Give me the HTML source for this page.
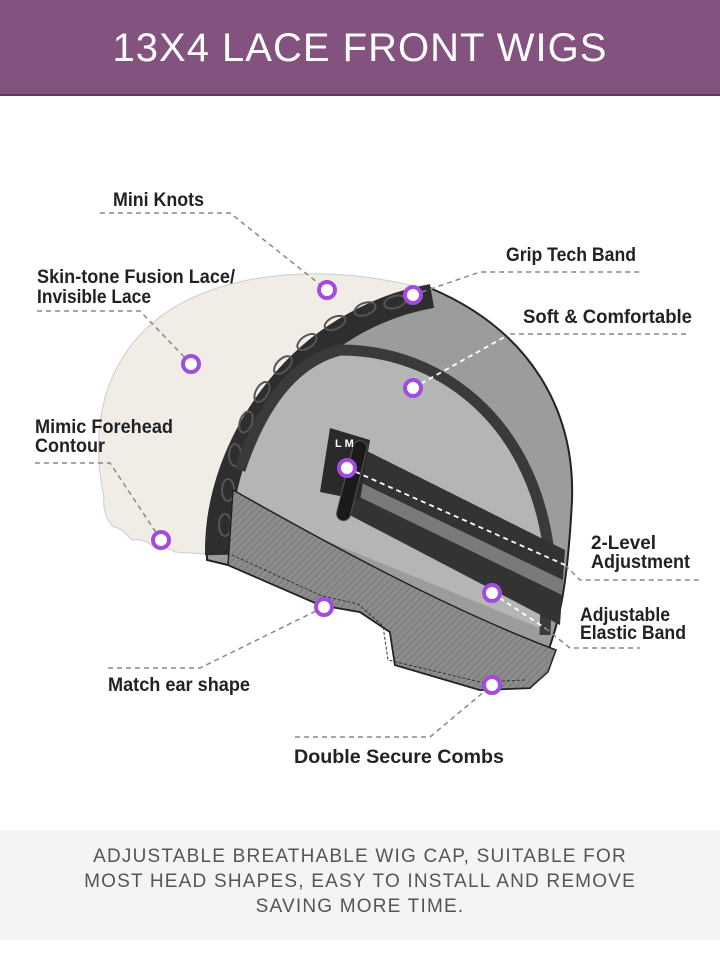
<!DOCTYPE html>
<html><head><meta charset="utf-8"><style>
body{margin:0;width:720px;height:963px;background:#fff;overflow:hidden;font-family:"Liberation Sans",sans-serif}
.hd{position:absolute;left:0;top:0;width:720px;height:94px;background:#83527f;border-bottom:2px solid #5a3a58;color:#fff;font-size:40px;text-align:center;line-height:96px;letter-spacing:1px}
.ft{position:absolute;left:0;top:830px;width:720px;height:110px;background:#f4f4f4;color:#555;font-size:19px;text-align:center;letter-spacing:1.2px;line-height:25px;padding-top:14px;box-sizing:border-box}
svg{position:absolute;left:0;top:0}
.l{font-family:"Liberation Sans",sans-serif;font-weight:bold;font-size:19px;fill:#222}
</style></head><body>
<div class="hd">13X4 LACE FRONT WIGS</div>
<svg width="720" height="963">
<defs><pattern id="h" width="5" height="5" patternUnits="userSpaceOnUse" patternTransform="rotate(45)"><rect width="5" height="5" fill="#8c8c8c"/><line x1="0" y1="0" x2="0" y2="5" stroke="#777" stroke-width="2"/></pattern></defs>
<!-- lace -->
<path d="M175,552 Q165,545 155,548 Q145,538 132,540 Q122,528 112,526 Q102,512 104,498 C92,440 98,380 140,335 C190,280 300,255 430,290 L300,560 Z" fill="#f1ede6" stroke="#ccc" stroke-width="1"/>
<!-- cap outer -->
<path d="M207,560 C205,430 300,305 430,288 C530,330 575,410 572,500 C568,580 560,640 530,688 L480,690 L395,665 L390,632 L360,612 L320,605 L228,565 Z" fill="#9c9c9c" stroke="#222" stroke-width="2"/>
<!-- grip band -->
<path d="M217,555 C215,440 305,318 432,296" fill="none" stroke="#2e2e2e" stroke-width="24"/>
<g fill="none" stroke="#555" stroke-width="2">
<ellipse cx="225" cy="525" rx="6" ry="11"/><ellipse cx="228" cy="490" rx="6" ry="11"/><ellipse cx="235" cy="455" rx="6" ry="11"/><ellipse cx="246" cy="422" rx="6" ry="11" transform="rotate(20 246 422)"/><ellipse cx="262" cy="392" rx="6" ry="11" transform="rotate(30 262 392)"/><ellipse cx="283" cy="365" rx="6" ry="11" transform="rotate(45 283 365)"/><ellipse cx="307" cy="342" rx="6" ry="11" transform="rotate(55 307 342)"/><ellipse cx="335" cy="323" rx="6" ry="11" transform="rotate(65 335 323)"/><ellipse cx="365" cy="309" rx="6" ry="11" transform="rotate(70 365 309)"/><ellipse cx="395" cy="302" rx="6" ry="11" transform="rotate(75 395 302)"/>
</g>
<!-- inner light -->
<path d="M237,492 C255,410 300,355 340,350 C440,350 535,420 548,545 L545,630 L300,530 Z" fill="#b5b5b5"/>
<path d="M240,470 C265,395 300,360 340,350 C440,350 530,420 548,545 L545,635" fill="none" stroke="#3a3a3a" stroke-width="11"/>
<!-- bottom hatched band -->
<path d="M233,490 C330,545 450,610 556,650 L548,672 L530,688 L480,690 L395,665 L390,632 L360,612 L320,605 L228,565 Z" fill="url(#h)" stroke="#222" stroke-width="1.5"/>
<path d="M232,555 L322,596 L358,604 L383,626 L388,660 L480,682 L525,680" fill="none" stroke="#333" stroke-width="1" stroke-dasharray="3,2"/>
<!-- strap -->
<path d="M355,445 L565,550 L560,625 L340,510 Z" fill="#333"/>
<path d="M345,475 L563,580 L562,595 L345,490 Z" fill="#7a7a7a"/>
<path d="M330,428 L370,440 L360,500 L320,492 Z" fill="#2a2a2a"/>
<rect x="345" y="440" width="14" height="82" rx="7" fill="#1a1a1a" stroke="#555" transform="rotate(14 353 480)"/>
<text x="335" y="447" fill="#fff" font-size="11" font-weight="bold">L M</text>
<!-- leader lines -->
<g fill="none" stroke="#888" stroke-width="1.5" stroke-dasharray="5,4">
<polyline points="100,213 230,213 327,290"/>
<polyline points="413,295 480,272 640,272"/>
<polyline points="37,311 140,311 191,364"/>
<polyline points="35,463 110,463 161,540"/>
<polyline points="108,668 200,668 324,607"/>
<polyline points="295,737 430,737 492,685"/>
<polyline points="545,628 570,648 640,648"/>
<polyline points="565,565 580,580 700,580"/>
<polyline points="510,334 690,334"/>
</g>
<g fill="none" stroke="#fff" stroke-width="1.8" stroke-dasharray="5,4">
<polyline points="413,388 510,334"/>
<polyline points="347,468 565,565"/>
<polyline points="492,593 545,628"/>
</g>
<g fill="#fff" stroke="#a24be0" stroke-width="4">
<circle cx="327" cy="290" r="8"/><circle cx="413" cy="295" r="8"/><circle cx="191" cy="364" r="8"/><circle cx="413" cy="388" r="8"/><circle cx="347" cy="468" r="8"/><circle cx="161" cy="540" r="8"/><circle cx="324" cy="607" r="8"/><circle cx="492" cy="593" r="8"/><circle cx="492" cy="685" r="8"/>
</g>
<text class="l" x="113" y="206" textLength="91" lengthAdjust="spacingAndGlyphs">Mini Knots</text>
<text class="l" x="506" y="261" textLength="130" lengthAdjust="spacingAndGlyphs">Grip Tech Band</text>
<text class="l" x="37" y="283" textLength="198" lengthAdjust="spacingAndGlyphs">Skin-tone Fusion Lace/</text>
<text class="l" x="37" y="303" textLength="114" lengthAdjust="spacingAndGlyphs">Invisible Lace</text>
<text class="l" x="523" y="323" textLength="169" lengthAdjust="spacingAndGlyphs">Soft &amp; Comfortable</text>
<text class="l" x="35" y="433" textLength="138" lengthAdjust="spacingAndGlyphs">Mimic Forehead</text>
<text class="l" x="35" y="452" textLength="70" lengthAdjust="spacingAndGlyphs">Contour</text>
<text class="l" x="591" y="549" textLength="65" lengthAdjust="spacingAndGlyphs">2-Level</text>
<text class="l" x="591" y="568" textLength="99" lengthAdjust="spacingAndGlyphs">Adjustment</text>
<text class="l" x="580" y="621" textLength="90" lengthAdjust="spacingAndGlyphs">Adjustable</text>
<text class="l" x="580" y="639" textLength="106" lengthAdjust="spacingAndGlyphs">Elastic Band</text>
<text class="l" x="108" y="691" textLength="142" lengthAdjust="spacingAndGlyphs">Match ear shape</text>
<text class="l" x="294" y="763" textLength="210" lengthAdjust="spacingAndGlyphs">Double Secure Combs</text>
</svg>
<div class="ft">ADJUSTABLE BREATHABLE WIG CAP, SUITABLE FOR<br>MOST HEAD SHAPES, EASY TO INSTALL AND REMOVE<br>SAVING MORE TIME.</div>
</body></html>
